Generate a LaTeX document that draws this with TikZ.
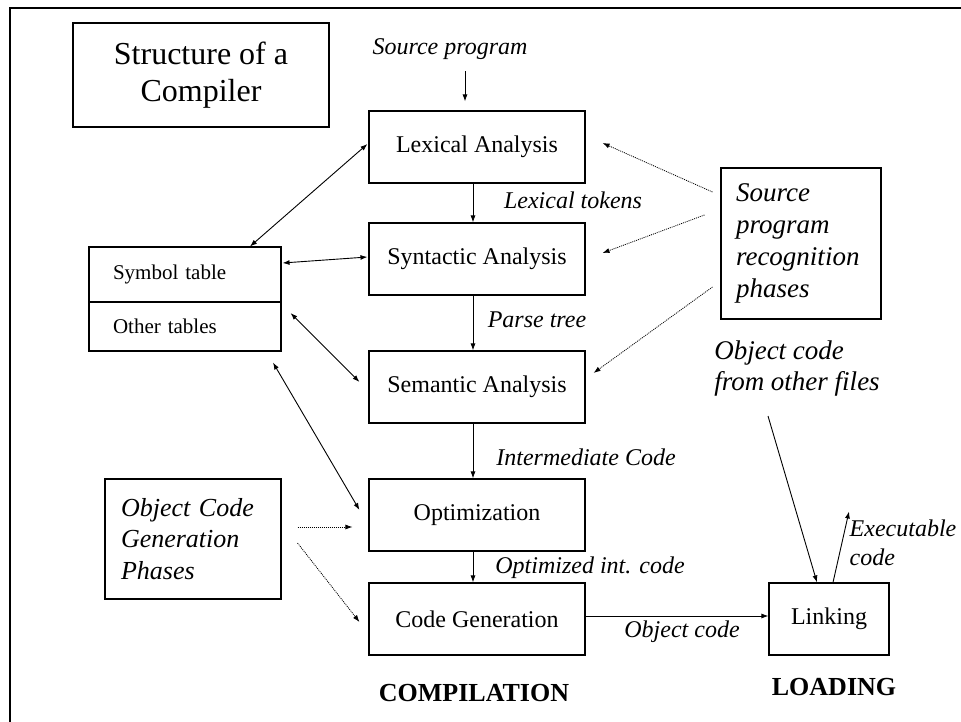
\documentclass[tikz,border=0pt]{standalone}
\usepackage{fontspec}
\setmainfont{Liberation Serif}
\usetikzlibrary{arrows.meta}
\tikzset{
  box/.style={draw, line width=1.1pt, minimum width=216pt, minimum height=72pt, inner sep=0pt, font=\fontsize{24}{28}\selectfont},
  lbl/.style={inner sep=0pt, font=\fontsize{24}{28}\selectfont\itshape},
  tbl/.style={draw, line width=1.1pt, minimum width=192pt, inner sep=0pt, text width=144pt, align=left, font=\fontsize{21}{25}\selectfont},
  arr/.style={line width=0.9pt, -{Latex[length=7pt,width=5pt]}},
  darr/.style={line width=0.9pt, {Latex[length=7pt,width=5pt]}-{Latex[length=7pt,width=5pt]}},
  dot/.style={line width=0.8pt, dash pattern=on 1pt off 1pt, -{Latex[length=7pt,width=5pt]}},
}
\begin{document}
\begin{tikzpicture}[x=1pt,y=-1pt]
\useasboundingbox (0,0) rectangle (961,722);
\fill[white] (0,0) rectangle (961,722);
% frame
\draw[line width=2.2pt] (10,722) -- (10,8) -- (961,8);

% title
\node[draw, line width=1.1pt, minimum width=256pt, minimum height=104pt, inner sep=0pt, align=center, font=\fontsize{32}{37}\selectfont] (title) at (201,75) {Structure of a\\Compiler};

% main chain
\node[box] (lex) at (477,147) {Lexical Analysis};
\node[box] (syn) at (477,259) {Syntactic Analysis};
\node[box] (sem) at (477,387) {Semantic Analysis};
\node[box] (opt) at (477,515) {Optimization};
\node[box] (cg) at (477,619) {Code Generation};
\node[box, minimum width=120pt] (link) at (829,619) {Linking};

% tables
\node[tbl, minimum height=55pt] (symt) at (185,274.5) {Symbol table};
\node[tbl, minimum height=49pt] (othert) at (185,326.5) {Other tables};

% phase boxes
\node[draw, line width=1.1pt, minimum width=176pt, minimum height=120pt, inner sep=0pt, text width=144pt, align=left, font=\fontsize{26}{31.5}\selectfont\itshape] (ocg) at (193,539) {Object Code\\Generation\\Phases};
\node[draw, line width=1.1pt, minimum width=160pt, minimum height=151pt, inner sep=0pt, text width=130pt, align=left, font=\fontsize{27}{32}\selectfont\itshape] (spr) at (801,243.5) {Source\\program\\recognition\\phases};

% labels
\node[lbl] (src) at (450,49) {Source program};
\node[lbl] (ltok) at (573,200) {Lexical tokens};
\node[lbl] (ptree) at (537,320) {Parse tree};
\node[lbl] (icode) at (586,457) {Intermediate Code};
\node[lbl] (oicode) at (590,568) {Optimized int. code};
\node[lbl] (objc) at (682,632) {Object code};
\node[lbl, align=left, font=\fontsize{27}{31}\selectfont\itshape] (ocf) at (797,369) {Object code\\ from other files};
\node[lbl, align=left, font=\fontsize{24}{29}\selectfont\itshape] (exe) at (903,543) {Executable\\code};
\node[inner sep=0pt, font=\fontsize{26}{30}\selectfont\bfseries] (comp) at (474,693) {COMPILATION};
\node[inner sep=0pt, font=\fontsize{26}{30}\selectfont\bfseries] (load) at (834,687) {LOADING};
\coordinate (ocfend) at (768,416);

% vertical flow
\draw[arr] ([xshift=-12pt,yshift=39pt]lex.north) -- ([xshift=-12pt,yshift=9pt]lex.north);
\draw[arr] ([xshift=-4pt]lex.south) -- ([xshift=-4pt]syn.north);
\draw[arr] ([xshift=-4pt]syn.south) -- ([xshift=-4pt]sem.north);
\draw[arr] ([xshift=-4pt]sem.south) -- ([xshift=-4pt]opt.north);
\draw[arr] ([xshift=-4pt]opt.south) -- ([xshift=-4pt]cg.north);
\draw[arr] ([yshift=3pt]cg.east) -- ([yshift=3pt]link.west);

% table links
\draw[darr] ([xshift=-1pt,yshift=3pt]lex.west) -- ([xshift=65pt]symt.north);
\draw[darr] ([xshift=-1pt,yshift=2pt]syn.west) -- ([xshift=1pt,yshift=11.5pt]symt.east);
\draw[darr] ([xshift=9pt,yshift=13.5pt]othert.east) -- ([xshift=-9pt,yshift=5pt]sem.west);
\draw[darr] ([xshift=88pt,yshift=-11pt]othert.south) -- ([xshift=-9pt,yshift=5pt]opt.west);

% dotted hints
\draw[dot] ([xshift=-8pt,yshift=51.5pt]spr.west) -- ([xshift=17pt,yshift=4pt]lex.east);
\draw[dot] ([xshift=-16pt,yshift=28.5pt]spr.west) -- ([xshift=17pt,yshift=6pt]syn.east);
\draw[dot] ([xshift=-8pt,yshift=-43.5pt]spr.west) -- ([xshift=8pt,yshift=14pt]sem.east);
\draw[dot] ([xshift=16pt,yshift=12pt]ocg.east) -- ([xshift=-16pt,yshift=-12pt]opt.west);
\draw[dot] ([xshift=16pt,yshift=-4pt]ocg.east) -- ([xshift=-9pt,yshift=-3pt]cg.west);

% loading
\draw[arr] (ocfend) -- ([xshift=-12pt]link.north);
\draw[arr] ([xshift=4pt]link.north) -- ([xshift=20pt,yshift=71pt]link.north);
\end{tikzpicture}
\end{document}
